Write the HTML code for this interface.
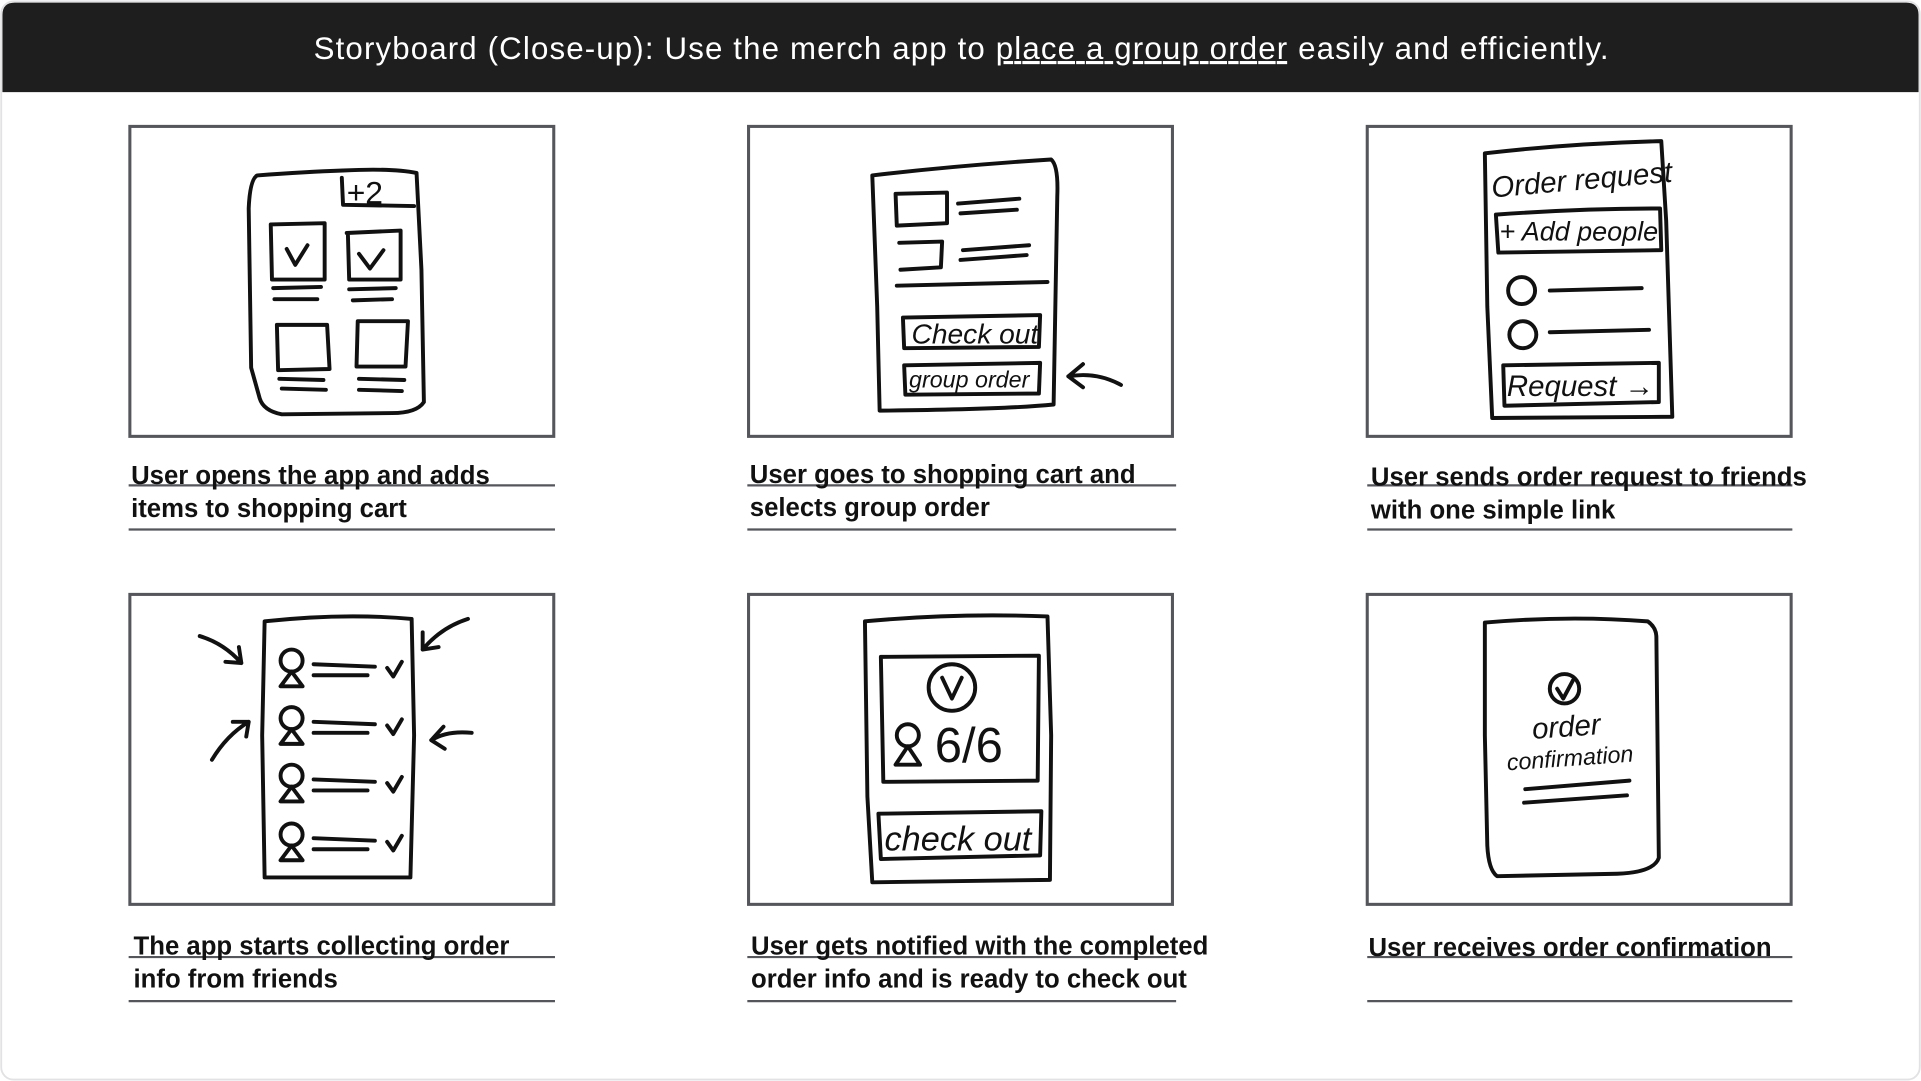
<!DOCTYPE html>
<html><head><meta charset="utf-8"><style>
html,body{margin:0;padding:0;background:#fff;}
svg{display:block;}
.cap{font-family:"Liberation Sans Narrow","Liberation Sans",sans-serif;font-weight:bold;font-size:21px;fill:#111;}
.sk{fill:none;stroke:#111;stroke-width:3.2;stroke-linecap:round;stroke-linejoin:round;}
.hw{font-family:"Liberation Sans Narrow","Liberation Sans",sans-serif;fill:#111;font-style:italic;}
.bx{fill:#fff;stroke:#55565c;stroke-width:2.5;}
.ln{stroke:#55565c;stroke-width:1.8;}
</style></head><body>
<svg width="1921" height="1081" viewBox="0 0 1568 882" xmlns="http://www.w3.org/2000/svg">
<rect x="1" y="1" width="1566" height="880" rx="10" fill="#fff" stroke="#e2e2e4" stroke-width="1.5"/>
<path d="M2 12 Q2 2 12 2 L1556 2 Q1566 2 1566 12 L1566 75 L2 75 Z" fill="#1e1e1e"/>
<text x="256" y="48" font-family="Liberation Sans, sans-serif" font-size="25.5" fill="#fff" textLength="1057" lengthAdjust="spacing">Storyboard (Close-up): Use the merch app to <tspan text-decoration="underline">place a group order</tspan> easily and efficiently.</text>

<!-- boxes -->
<rect class="bx" x="106" y="103" width="346" height="253"/>
<rect class="bx" x="611" y="103" width="346" height="253"/>
<rect class="bx" x="1116" y="103" width="346" height="253"/>
<rect class="bx" x="106" y="485" width="346" height="253"/>
<rect class="bx" x="611" y="485" width="346" height="253"/>
<rect class="bx" x="1116" y="485" width="346" height="253"/>

<!-- caption lines -->
<g class="ln">
<line x1="105" y1="396" x2="453" y2="396"/><line x1="105" y1="432" x2="453" y2="432"/>
<line x1="610" y1="396" x2="960" y2="396"/><line x1="610" y1="432" x2="960" y2="432"/>
<line x1="1116" y1="396" x2="1463" y2="396"/><line x1="1116" y1="432" x2="1463" y2="432"/>
<line x1="105" y1="781" x2="453" y2="781"/><line x1="105" y1="817" x2="453" y2="817"/>
<line x1="610" y1="781" x2="960" y2="781"/><line x1="610" y1="817" x2="960" y2="817"/>
<line x1="1116" y1="781" x2="1463" y2="781"/><line x1="1116" y1="817" x2="1463" y2="817"/>
</g>
<text class="cap" x="107" y="395">User opens the app and adds</text>
<text class="cap" x="107" y="422">items to shopping cart</text>
<text class="cap" x="612" y="394">User goes to shopping cart and</text>
<text class="cap" x="612" y="421">selects group order</text>
<text class="cap" x="1119" y="396">User sends order request to friends</text>
<text class="cap" x="1119" y="423">with one simple link</text>
<text class="cap" x="109" y="779">The app starts collecting order</text>
<text class="cap" x="109" y="806">info from friends</text>
<text class="cap" x="613" y="779">User gets notified with the completed</text>
<text class="cap" x="613" y="806">order info and is ready to check out</text>
<text class="cap" x="1117" y="780">User receives order confirmation</text>

<!-- panel 1 -->
<g class="sk">
<path d="M210 143 Q250 140 280 139 Q320 137 340 141 L344 220 L346 328 Q340 337 320 337 L230 338 Q215 335 212 325 L205 300 L203 170 Q204 146 210 143 Z"/>
<path d="M279 145 L280 167 L338 168"/>
<path d="M221 183 L265 182 L265 228 L222 228 Z"/><path d="M234 203 L241 216 L251 200"/>
<path d="M283 190 L327 188 L327 228 L285 228 L284 192"/><path d="M293 207 L302 219 L313 204"/>
<path d="M223 235 L262 234 M224 244 L259 244 M285 236 L323 235 M288 245 L320 244"/>
<path d="M226 265 L267 265 L269 301 L227 302 Z"/><path d="M292 262 L333 262 L331 299 L291 299 Z"/>
<path d="M228 309 L264 310 M230 317 L266 318 M293 309 L330 310 M293 318 L328 319"/>
</g>
<text x="283" y="166" font-family="Liberation Sans, sans-serif" font-size="26" fill="#111">+2</text>

<!-- panel 2 -->
<g class="sk">
<path d="M712 143 Q780 135 858 130 Q864 135 863 160 L860 330 Q820 334 718 335 L716 250 L712 143 Z"/>
<path d="M731 158 L773 157 L773 182 L732 184 Z"/><path d="M734 198 L769 197 L768 218 L735 220"/>
<path d="M782 166 L832 162 M784 174 L830 171 M786 204 L840 200 M784 212 L838 208"/>
<path d="M732 233 L855 230"/>
<path d="M737 259 L849 257 L848 283 L738 284 Z"/>
<path d="M738 298 L849 296 L848 321 L739 322 Z"/>
<path d="M915 314 Q895 303 872 307 M884 297 L872 307 L884 316"/>
</g>
<text class="hw" x="744" y="280" font-size="23">Check out</text>
<text class="hw" x="742" y="316" font-size="19">group order</text>

<!-- panel 3 -->
<g class="sk">
<path d="M1212 125 Q1280 117 1356 115 L1360 180 L1365 340 L1218 341 L1214 250 Z"/>
<path d="M1221 175 Q1290 170 1355 170 L1356 204 L1223 206 Z"/>
<circle cx="1242" cy="237" r="11"/><circle cx="1243" cy="273" r="11"/>
<path d="M1265 237 L1340 235 M1265 271 L1346 269"/>
<path d="M1227 298 L1354 296 L1354 328 L1228 331 Z"/>
</g>
<text class="hw" x="1218" y="161" font-size="24" transform="rotate(-5 1218 161)">Order request</text>
<text class="hw" x="1224" y="196" font-size="22">+ Add people</text>
<text class="hw" x="1230" y="323" font-size="24">Request →</text>

<!-- panel 4 -->
<g class="sk">
<path d="M216 507 Q280 500 336 505 L338 600 L335 716 L216 716 L214 600 Z"/>
<path d="M163 519 Q183 525 197 541 M184 540 L197 541 L195 528"/>
<path d="M173 620 Q185 600 203 589 M190 589 L203 589 L201 601"/>
<path d="M382 505 Q360 512 345 530 M345 516 L345 530 L358 528"/>
<path d="M385 598 Q365 596 352 604 M362 593 L352 604 L363 611"/>
</g>
<g class="sk">
<g id="p"><circle cx="238" cy="539" r="9"/><path d="M238 548 L229 560 L247 560 Z"/><path d="M256 542 L306 544 M256 551 L300 551 M316 545 L321 552 L328 540"/></g>
<use href="#p" transform="translate(0 47)"/>
<use href="#p" transform="translate(0 94)"/>
<use href="#p" transform="translate(0 142)"/>
</g>

<!-- panel 5 -->
<g class="sk">
<path d="M706 507 Q780 500 855 503 L858 600 L857 718 L712 720 L708 650 Z"/>
<path d="M719 536 L848 535 L847 637 L721 638 Z"/>
<circle cx="777" cy="561" r="19"/><path d="M769 553 L777 570 L785 553"/>
<circle cx="741" cy="600" r="9"/><path d="M741 609 L731 624 L751 624 Z"/>
<path d="M717 664 L850 662 L849 698 L719 701 Z"/>
</g>
<text x="763" y="622" font-family="Liberation Sans, sans-serif" font-size="40" fill="#111">6/6</text>
<text class="hw" x="722" y="694" font-size="28">check out</text>

<!-- panel 6 -->
<g class="sk">
<path d="M1212 508 Q1280 502 1345 507 Q1352 512 1352 520 L1354 700 Q1350 712 1320 713 L1222 715 Q1215 710 1214 690 L1212 600 Z"/>
<circle cx="1277" cy="562" r="12"/><path d="M1271 562 L1276 570 L1284 555"/>
<path d="M1245 644 L1330 637 M1244 655 L1328 649"/>
</g>
<text class="hw" x="1279" y="601" font-size="24" text-anchor="middle" transform="rotate(-4 1279 601)">order</text>
<text class="hw" x="1282" y="625" font-size="19" text-anchor="middle" transform="rotate(-4 1282 625)">confirmation</text>
</svg>
</body></html>
